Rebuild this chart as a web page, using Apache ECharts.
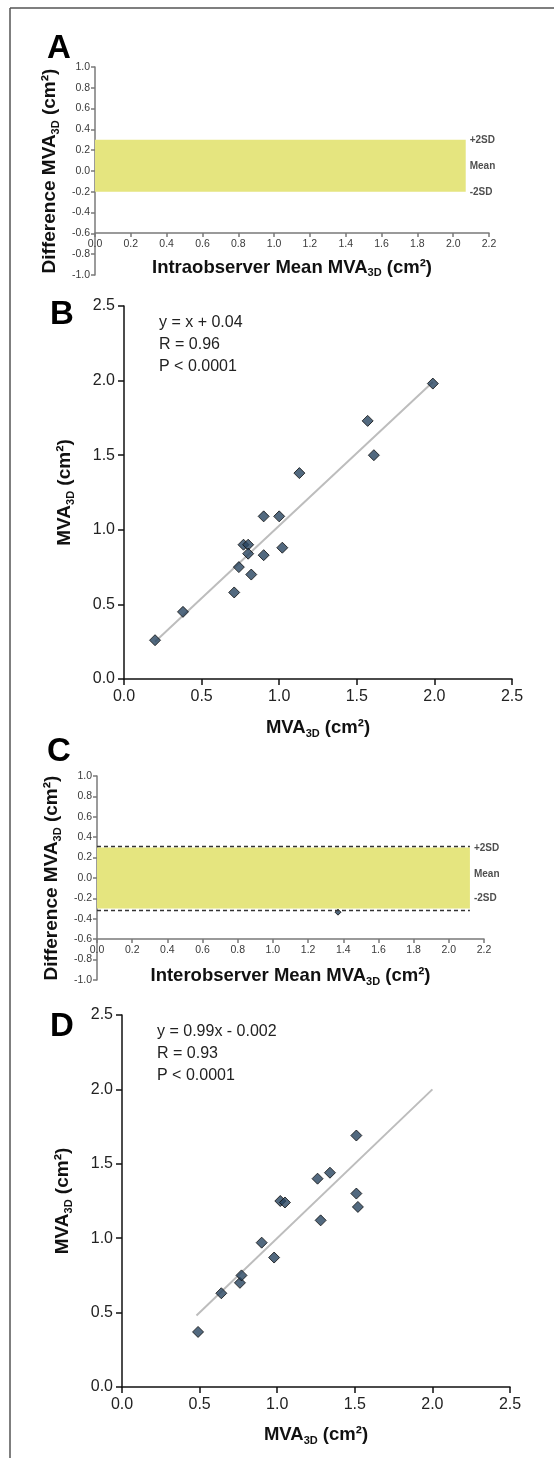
<!DOCTYPE html>
<html>
<head>
<meta charset="utf-8">
<script src="https://cdn.jsdelivr.net/npm/echarts@6/dist/echarts.min.js"></script>
<style>
  html, body { margin: 0; padding: 0; background: #fff; }
  #chart { width: 554px; height: 1458px; }
</style>
</head>
<body>
<div id="chart"></div>
<script>
const fontFamily = "Liberation Sans, Arial, Helvetica, sans-serif";

// A - intraobserver Bland-Altman
const bandA = [0.3, -0.2];           // +2SD, -2SD
const bandEndA = 2.07;
const sdLabels = ["+2SD", "Mean", "-2SD"];
const sdLabelYA = [0.3, 0.05, -0.2];

// B - intraobserver correlation
const pointsB = [
  [0.2, 0.26], [0.38, 0.45], [0.71, 0.58], [0.74, 0.75], [0.77, 0.9],
  [0.8, 0.9], [0.8, 0.84], [0.82, 0.7], [0.9, 1.09], [0.9, 0.83],
  [1.0, 1.09], [1.02, 0.88], [1.13, 1.38], [1.57, 1.73], [1.61, 1.5],
  [1.99, 1.98]
];
const fitB = [[0.2, 0.25], [1.99, 1.99]];
const statsB = ["y = x + 0.04", "R = 0.96", "P < 0.0001"];

// C - interobserver Bland-Altman
const bandC = [0.3, -0.3];
const limitsC = [0.315, -0.315];
const bandEndC = 2.12;
const sdLabelYC = [0.29, 0.04, -0.195];
const diffPointsC = [[1.37, -0.335]];

// D - interobserver correlation
const pointsD = [
  [0.49, 0.37], [0.64, 0.63], [0.76, 0.7], [0.77, 0.75], [0.9, 0.97],
  [0.98, 0.87], [1.02, 1.25], [1.05, 1.24], [1.26, 1.4], [1.28, 1.12],
  [1.34, 1.44], [1.51, 1.69], [1.51, 1.3], [1.52, 1.21]
];
const fitD = [[0.48, 0.48], [2.0, 2.0]];
const statsD = ["y = 0.99x - 0.002", "R = 0.93", "P < 0.0001"];

const fmt1 = v => (Math.abs(v) < 1e-9 ? 0 : v).toFixed(1);

function nameStyle(size, sub) {
  return {
    fontFamily: fontFamily,
    rich: {
      b: { fontSize: size, fontWeight: "bold", color: "#111", lineHeight: 22, fontFamily: fontFamily },
      s: { fontSize: sub, fontWeight: "bold", color: "#111", lineHeight: 11, padding: [11, 0, 0, 0], fontFamily: fontFamily }
    }
  };
}

function diffAxes(grid, xName, xGap, yGap) {
  const line = { show: true, onZero: false, lineStyle: { color: "#7a7a7a", width: 1.5 } };
  const tick = { show: true, length: 4, lineStyle: { color: "#7a7a7a", width: 1.5 } };
  const label = { fontSize: 10.5, color: "#3a3a3a", fontFamily: fontFamily, formatter: fmt1 };
  return {
    x: {
      gridIndex: grid, type: "value", min: 0, max: 2.2, interval: 0.2, offset: -42,
      axisLine: line, axisTick: tick, axisLabel: Object.assign({ margin: 6 }, label),
      splitLine: { show: false },
      name: "{b|" + xName + " MVA}{s|3D}{b| (cm²)}", nameLocation: "middle", nameGap: xGap,
      nameTextStyle: nameStyle(18.5, 11)
    },
    y: {
      gridIndex: grid, type: "value", min: -1, max: 1, interval: 0.2,
      axisLine: line, axisTick: tick, axisLabel: Object.assign({ margin: 5 }, label),
      splitLine: { show: false },
      name: "{b|Difference MVA}{s|3D}{b| (cm²)}", nameLocation: "middle", nameGap: yGap,
      nameTextStyle: nameStyle(19, 11)
    }
  };
}

function corrAxes(grid, xGap, yGap) {
  const line = { show: true, onZero: false, lineStyle: { color: "#111", width: 1.5 } };
  const tick = { show: true, length: 6, lineStyle: { color: "#111", width: 1.5 } };
  const label = { fontSize: 16, color: "#222", fontFamily: fontFamily, formatter: fmt1 };
  const nm = "{b|MVA}{s|3D}{b| (cm²)}";
  return {
    x: {
      gridIndex: grid, type: "value", min: 0, max: 2.5, interval: 0.5,
      axisLine: line, axisTick: tick, axisLabel: Object.assign({ margin: 10 }, label),
      splitLine: { show: false },
      name: nm, nameLocation: "middle", nameGap: xGap, nameTextStyle: nameStyle(18.5, 11)
    },
    y: {
      gridIndex: grid, type: "value", min: 0, max: 2.5, interval: 0.5,
      axisLine: line, axisTick: tick, axisLabel: Object.assign({ margin: 9 }, label),
      splitLine: { show: false },
      name: nm, nameLocation: "middle", nameGap: yGap, nameTextStyle: nameStyle(19, 11)
    }
  };
}

const axA = diffAxes(0, "Intraobserver Mean", 23.5, 29);
const axB = corrAxes(1, 38, 48);
const axC = diffAxes(2, "Interobserver Mean", 26, 29.5);
const axD = corrAxes(3, 37, 48);
axC.x.offset = -41;

function sdSeries(idx, labelY, bandEnd, band, limits) {
  const s = {
    type: "scatter",
    xAxisIndex: idx, yAxisIndex: idx,
    symbolSize: 0,
    silent: true,
    data: sdLabels.map((n, i) => ({ name: n, value: [bandEnd, labelY[i]] })),
    label: {
      show: true, position: "right", distance: 4,
      formatter: p => p.name,
      fontSize: 10, fontWeight: "bold", color: "#222", fontFamily: fontFamily
    },
    markArea: {
      silent: true,
      itemStyle: { color: "#e5e57f" },
      data: [[{ coord: [0, band[0]] }, { coord: [bandEnd, band[1]] }]]
    }
  };
  if (limits) {
    s.markLine = {
      silent: true, symbol: "none",
      label: { show: false },
      lineStyle: { color: "#333", type: [4, 3], width: 1.3 },
      data: limits.map(v => [{ coord: [0, v] }, { coord: [bandEnd, v] }])
    };
  }
  return s;
}

function fitSeries(idx, data) {
  return {
    type: "line", xAxisIndex: idx, yAxisIndex: idx, data: data,
    symbol: "none", silent: true, z: 1,
    lineStyle: { color: "#bdbdbd", width: 2 }
  };
}

function pointSeries(idx, data, size) {
  return {
    type: "scatter", xAxisIndex: idx, yAxisIndex: idx, data: data,
    symbol: "diamond", symbolSize: size, z: 3,
    itemStyle: { color: "#27445f", borderColor: "#0d0d0d", borderWidth: 1 }
  };
}

function letter(t, x, y) {
  return {
    type: "text", left: x, top: y - 16,
    style: { text: t, fontSize: 33, fontWeight: "bold", fill: "#000", fontFamily: fontFamily }
  };
}

function stats(lines, x, y) {
  return lines.map((t, i) => ({
    type: "text", x: x, y: y + i * 22,
    style: { text: t, fontSize: 16, fill: "#222", fontFamily: fontFamily, verticalAlign: "middle" }
  }));
}

const chart = echarts.init(document.getElementById("chart"));
chart.setOption({
  animation: false,
  textStyle: { fontFamily: fontFamily },
  grid: [
    { left: 95, top: 67, width: 394, height: 208 },
    { left: 124, top: 306, width: 388, height: 373 },
    { left: 97, top: 776, width: 387, height: 204 },
    { left: 122, top: 1015, width: 388, height: 372 }
  ],
  xAxis: [axA.x, axB.x, axC.x, axD.x],
  yAxis: [axA.y, axB.y, axC.y, axD.y],
  series: [
    sdSeries(0, sdLabelYA, bandEndA, bandA, null),
    fitSeries(1, fitB),
    pointSeries(1, pointsB, 11),
    pointSeries(2, diffPointsC, 6),
    sdSeries(2, sdLabelYC, bandEndC, bandC, limitsC),
    fitSeries(3, fitD),
    pointSeries(3, pointsD, 11)
  ],
  graphic: [
    { type: "line", shape: { x1: 10, y1: 8, x2: 554, y2: 8 }, style: { stroke: "#555", lineWidth: 1.5 } },
    { type: "line", shape: { x1: 10, y1: 8, x2: 10, y2: 1458 }, style: { stroke: "#555", lineWidth: 1.5 } },
    letter("A", 47, 48),
    letter("B", 50, 314),
    letter("C", 47, 751),
    letter("D", 50, 1026)
  ].concat(stats(statsB, 159, 323), stats(statsD, 157, 1032))
});
</script>
</body>
</html>
